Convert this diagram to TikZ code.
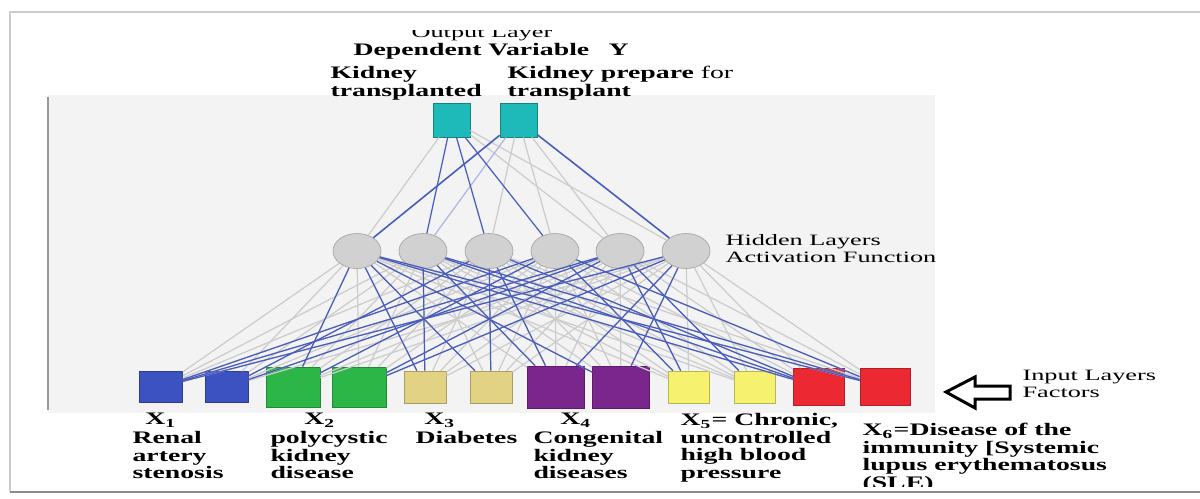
\documentclass[tikz,border=0pt]{standalone}
\usepackage{fontspec}
\setmainfont{Liberation Serif}
\usetikzlibrary{shapes.geometric}
\definecolor{cblue}{RGB}{60,82,192}
\definecolor{cgreen}{RGB}{44,182,72}
\definecolor{ctan}{RGB}{226,210,132}
\definecolor{cpurple}{RGB}{122,38,140}
\definecolor{cyellow}{RGB}{246,242,112}
\definecolor{cred}{RGB}{236,40,50}
\definecolor{cteal}{RGB}{30,186,186}
\definecolor{cline}{RGB}{72,92,190}
\definecolor{cpanel}{RGB}{243,243,243}
\def\bl{\bfseries\fontsize{10}{10}\selectfont}
\def\rg{\fontsize{9}{9.7}\selectfont}

\begin{document}
\begin{tikzpicture}[x=0.02cm,y=-0.02cm,
    txt/.style={inner sep=0pt, align=left, anchor=north west},
    labb/.style={txt, font=\bl, xscale=1.58},
    labr/.style={txt, font=\rg, xscale=1.66},
    hid/.style={ellipse, draw=black!35, fill=black!18, minimum width=0.96cm, minimum height=0.7cm, inner sep=0pt},
    outbox/.style={draw=cteal!70!black, fill=cteal, minimum width=0.74cm, minimum height=0.68cm, inner sep=0pt},
    wg/.style={draw=black!20, line width=0.7pt},
    wb/.style={draw=cline, line width=0.7pt},
    wl/.style={draw=cline!45, line width=0.7pt}]
    \useasboundingbox (0,0) rectangle (1200,498);
    \draw[black!20, line width=1pt] (10,492) -- (10,12) -- (1200,12);
    \draw[black!45, line width=1pt] (10,492) -- (1200,492);
    \fill[cpanel] (48,95) rectangle (935,413);
    \draw[black!40, line width=1.5pt] (48,97) -- (48,410);

    \node[outbox] (o1) at (451.5,120) {};
    \node[outbox] (o2) at (518.5,120) {};
    \foreach \i/\x in {1/357,2/423,3/489,4/555,5/620,6/686}{
        \node[hid] (h\i) at (\x,251) {};
    }
    \foreach \n/\x/\w/\h/\c in {1/161/43/31/cblue, 2/227/43/31/cblue, 3/293/54/40/cgreen, 4/359/54/40/cgreen,
        5/425/42/32/ctan, 6/491/42/32/ctan, 7/556/57/42/cpurple, 8/621/57/42/cpurple,
        9/689/41/32/cyellow, 10/755/41/32/cyellow, 11/819/51/37/cred, 12/885/50/37/cred}{
        \node[draw=\c!75!black, fill=\c, minimum width=\w*0.02cm, minimum height=\h*0.02cm, inner sep=0pt] (x\n) at (\x,387) {};
    }

    % weights
    \foreach \i in {1,...,6}{
        \foreach \j in {1,...,12}{
            \draw[wg] (h\i) -- (x\j);
        }
    }
    \foreach \i/\j in {4/1,5/1,6/1,3/2,5/2,1/3,4/3,5/4,6/4,1/5,2/5,1/6,3/6,2/7,3/7,6/7,
        1/8,6/8,4/9,5/9,5/10,1/11,2/11,3/11,1/12,2/12,4/12}{
        \draw[wb] (h\i) -- (x\j);
    }
    \foreach \i in {1,5,6} \draw[wg] (o1) -- (h\i);
    \foreach \i in {3,4,5} \draw[wg] (o2) -- (h\i);
    \draw[wl] (o2) -- (h2);
    \foreach \i in {2,3,4} \draw[wb] (o1) -- (h\i);
    \foreach \i in {1,6} \draw[wb, line width=0.9pt] (o2) -- (h\i);

    % labels
    \begin{scope}
        \clip (0,30) rectangle (1200,42);
        \node[labr, anchor=base] (outl) at (482,37) {Output Layer};
    \end{scope}
    \node[labb] (dep) at (353,43) {Dependent Variable\hspace{0.7em}Y};
    \node[labb] (ol1) at (330,66) {Kidney\\transplanted};
    \node[labb] (ol2) at (507,66) {Kidney prepare {\mdseries for}\\transplant};
    \node[labr] (hl) at (725,234) {Hidden Layers\\Activation Function};
    \node[labr] (il) at (1022,370) {Input Layers\\Factors};
    \draw[line width=1.7pt, fill=white] (946,392) -- (975,377) -- (975,386) -- (1010,386)
        -- (1010,399) -- (975,399) -- (975,408) -- cycle;

    \node[labb, anchor=center] (n1) at (161,420) {X\textsubscript{1}};
    \node[labb, anchor=center] (n2) at (320,420) {X\textsubscript{2}};
    \node[labb, anchor=center] (n3) at (440,420) {X\textsubscript{3}};
    \node[labb, anchor=center] (n4) at (576,420) {X\textsubscript{4}};
    \node[labb] (d1) at (132,431) {Renal\\artery\\stenosis};
    \node[labb] (d2) at (270,431) {polycystic\\kidney\\disease};
    \node[labb] (d3) at (415,431) {Diabetes};
    \node[labb] (d4) at (533,431) {Congenital\\kidney\\diseases};
    \node[labb] (d5) at (680,413) {X\textsubscript{5}= Chronic,\\uncontrolled\\high blood\\pressure};
    \begin{scope}
        \clip (0,0) rectangle (1200,486);
        \node[labb] (d6) at (862,423) {X\textsubscript{6}=Disease of the\\immunity [Systemic\\lupus erythematosus\\(SLE)};
    \end{scope}
\end{tikzpicture}
\end{document}
